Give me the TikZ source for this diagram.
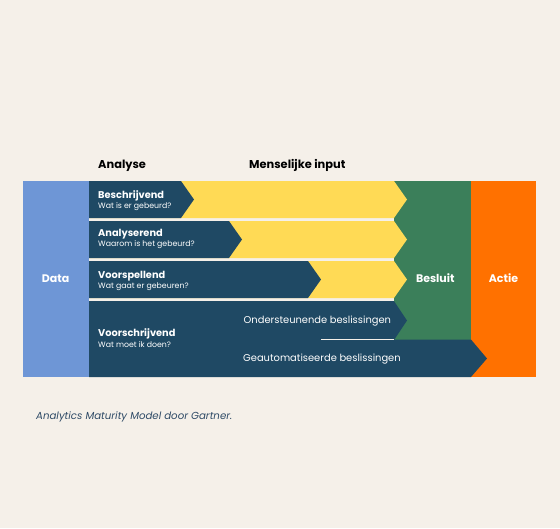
\documentclass[tikz,border=0pt]{standalone}
\usepackage{fontspec}
\setmainfont{Poppins}
\definecolor{bg}{HTML}{F5F0E9}
\definecolor{datablue}{HTML}{6E96D6}
\definecolor{dark}{HTML}{1F4964}
\definecolor{yel}{HTML}{FFDA55}
\definecolor{grn}{HTML}{3B7F5A}
\definecolor{org}{HTML}{FF7100}
\definecolor{cap}{HTML}{2E4A66}
\tikzset{
  head/.style={font=\fontsize{11.4}{12}\selectfont\bfseries, text=black, inner sep=0pt, anchor=base west},
  rowtitle/.style={font=\fontsize{9.8}{11}\selectfont\bfseries, text=white, inner sep=0pt, anchor=base west},
  rowsub/.style={font=\fontsize{7.8}{8}\selectfont, text=white, inner sep=0pt, anchor=base west},
  bigw/.style={font=\fontsize{11}{12}\selectfont\bfseries, text=white, inner sep=0pt, anchor=base},
  decision/.style={font=\fontsize{9.9}{11}\selectfont, text=white, inner sep=0pt, anchor=base west},
  caption/.style={font=\fontsize{10.2}{11}\selectfont\itshape, text=cap, inner sep=0pt, anchor=base west}
}
\begin{document}
\begin{tikzpicture}[x=1pt,y=-1pt]
\fill[bg] (0,0) rectangle (560,528);
\useasboundingbox (0,0) rectangle (560,528);
% Data column
\fill[datablue] (23,181) rectangle (89,377);
% Actie column
\fill[org] (471,181) rectangle (536,377);
% Besluit column
\fill[grn] (394,181) rectangle (471,340);
% rows 1-3
\foreach \ya/\yb/\xd in {181/218/181, 221/258/229, 261/298/308}{
  \fill[yel] (89,\ya) -- (394,\ya) -- (407,{(\ya+\yb)/2}) -- (394,\yb) -- (89,\yb) -- cycle;
  \fill[dark] (89,\ya) -- (\xd,\ya) -- ({\xd+13},{(\ya+\yb)/2}) -- (\xd,\yb) -- (89,\yb) -- cycle;
}
% row 4 upper
\fill[dark] (89,301) -- (394,301) -- (407,320.5) -- (394,340) -- (89,340) -- cycle;
% row 4 lower band
\fill[dark] (89,339.5) -- (471,339.5) -- (487,358.5) -- (471,377) -- (89,377) -- cycle;
\coordinate (sepA) at (321,339.3);
\coordinate (sepB) at (394,339.3);
\draw[bg, line width=1.4pt] (sepA) -- (sepB);
% headings
\node[head] (analyse) at (98,168) {Analyse};
\node[head] (mens) at (249,168) {Menselijke input};
% row texts
\node[rowtitle] (r1) at (98,198) {Beschrijvend};
\node[rowsub] (s1) at (98,208.5) {Wat is er gebeurd?};
\node[rowtitle] (r2) at (98,236) {Analyserend};
\node[rowsub] (s2) at (98,246.5) {Waarom is het gebeurd?};
\node[rowtitle] (r3) at (98,278) {Voorspellend};
\node[rowsub] (s3) at (98,288.5) {Wat gaat er gebeuren?};
\node[rowtitle] (r4) at (98,336.5) {Voorschrijvend};
\node[rowsub] (s4) at (98,347) {Wat moet ik doen?};
% decisions
\node[decision] (ond) at (243.5,323.3) {Ondersteunende beslissingen};
\node[decision] (geo) at (243,361) {Geautomatiseerde beslissingen};
% columns
\node[bigw] (data) at (55.7,282.5) {Data};
\node[bigw] (besluit) at (435.3,282.5) {Besluit};
\node[bigw] (actie) at (503.5,282.5) {Actie};
% caption
\node[caption] (capt) at (36,419) {Analytics Maturity Model door Gartner.};
\end{tikzpicture}
\end{document}
